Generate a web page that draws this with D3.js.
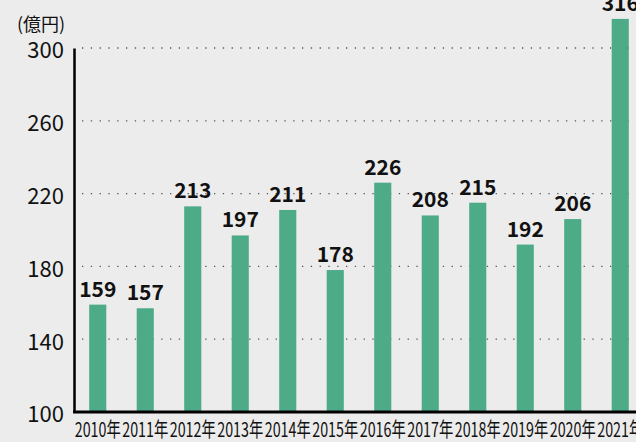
<!DOCTYPE html>
<html>
<head>
<meta charset="utf-8">
<script src="https://d3js.org/d3.v7.min.js"></script>
<style>
  body { margin: 0; background: #ececec; }
  svg { display: block; font-family: "Noto Sans CJK JP", "Noto Sans", sans-serif; }
</style>
</head>
<body>
<div id="viz"></div>
<script>
// data
var years = ["2010年", "2011年", "2012年", "2013年", "2014年", "2015年",
             "2016年", "2017年", "2018年", "2019年", "2020年", "2021年"];
var values = [159, 157, 213, 197, 211, 178, 226, 208, 215, 192, 206, 316];
var yTicks = [100, 140, 180, 220, 260, 300];
var unitLabel = "(億円)";

var width = 636, height = 442;
var margin = { top: 48, left: 74, bottom: 30 };

var svg = d3.select("#viz").append("svg")
  .attr("width", width)
  .attr("height", height);

svg.append("rect").attr("width", width).attr("height", height).attr("fill", "#ececec");

var x = d3.scaleBand()
  .domain(years)
  .range([margin.left, margin.left + 12 * 47.5])
  .paddingInner(0.64)
  .paddingOuter(0.32);

var y = d3.scaleLinear()
  .domain([100, 300])
  .range([412, 48]);

// dotted grid
svg.append("g").selectAll("line")
  .data(yTicks.filter(function(d) { return d > 100; }))
  .enter().append("line")
  .attr("x1", margin.left + 8)
  .attr("x2", width)
  .attr("y1", function(d) { return y(d); })
  .attr("y2", function(d) { return y(d); })
  .attr("stroke", "#555")
  .attr("stroke-width", 1.3)
  .attr("stroke-dasharray", "1.3 7.5");

// bars
svg.append("g").selectAll("rect")
  .data(values)
  .enter().append("rect")
  .attr("x", function(d, i) { return x(years[i]); })
  .attr("width", x.bandwidth())
  .attr("y", function(d) { return y(d); })
  .attr("height", function(d) { return y(100) - y(d); })
  .attr("fill", "#4dab87");

// value labels
svg.append("g").selectAll("text")
  .data(values)
  .enter().append("text")
  .attr("x", function(d, i) { return x(years[i]) + x.bandwidth() / 2; })
  .attr("y", function(d) { return y(d) - 8; })
  .attr("text-anchor", "middle")
  .attr("font-size", 21)
  .attr("font-weight", "bold")
  .attr("fill", "#111")
  .text(function(d) { return d; });

// y axis
var yAxis = svg.append("g")
  .attr("transform", "translate(" + margin.left + ",0)")
  .call(d3.axisLeft(y).tickValues(yTicks).tickSize(0).tickPadding(10));
yAxis.select(".domain").attr("stroke", "#000").attr("stroke-width", 2.5);
yAxis.selectAll("text").attr("font-size", 22).attr("fill", "#111")
  .attr("dy", "0.45em")
  .attr("font-family", "\"Noto Sans CJK JP\", sans-serif");

// x axis (labels squeezed so neighbours just touch, as in the original)
var xAxis = svg.append("g")
  .attr("transform", "translate(0," + y(100) + ")")
  .call(d3.axisBottom(x).tickSize(0).tickPadding(11));
xAxis.select(".domain").attr("d", "M" + (margin.left - 1) + ",0H" + width)
  .attr("stroke", "#000").attr("stroke-width", 3);
xAxis.selectAll("text").attr("font-size", 20).attr("fill", "#111")
  .attr("textLength", 46)
  .attr("lengthAdjust", "spacingAndGlyphs")
  .attr("font-family", "\"Noto Sans CJK JP\", sans-serif");

// unit label
svg.append("text")
  .attr("x", 17)
  .attr("y", 31)
  .attr("font-size", 18)
  .attr("fill", "#111")
  .text(unitLabel);
</script>
</body>
</html>
